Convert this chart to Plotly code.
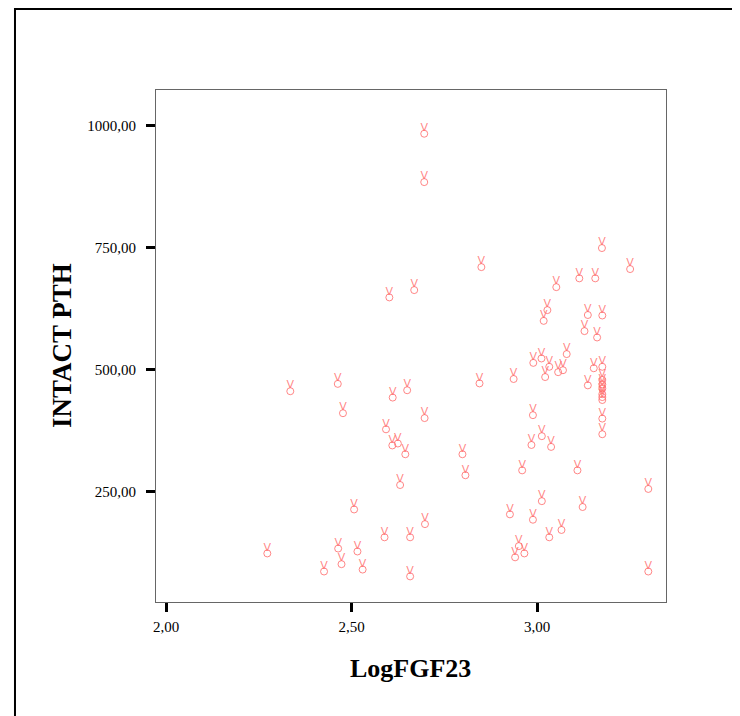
import plotly.graph_objects as go

# Data (LogFGF23 vs INTACT PTH)
log_fgf23 = [
    2.696, 2.696, 2.850, 2.602, 2.669, 3.175, 3.251, 3.114, 3.157, 3.052,
    3.028, 3.018, 3.137, 3.176, 3.128, 3.162, 3.080, 3.012, 2.990, 3.033,
    3.057, 3.070, 3.022, 2.937, 3.153, 3.176, 3.176, 3.176, 3.176, 3.176,
    3.176, 3.176, 3.137, 2.989, 3.176, 3.176, 3.013, 2.985, 3.038, 2.960,
    3.109, 3.300, 3.013, 3.123, 2.927, 2.989, 3.066, 3.033, 2.951, 2.966,
    2.941, 3.300, 2.335, 2.463, 2.611, 2.650, 2.477, 2.697, 2.593, 2.610,
    2.625, 2.645, 2.631, 2.507, 2.698, 2.589, 2.658, 2.273, 2.464, 2.516,
    2.473, 2.530, 2.426, 2.658, 2.799, 2.807, 2.845,
]
intact_pth = [
    983, 884, 710, 648, 663, 749, 706, 687, 687, 669,
    622, 600, 612, 611, 579, 566, 532, 523, 514, 506,
    495, 499, 485, 481, 503, 506, 479, 470, 462, 450,
    444, 438, 468, 407, 400, 368, 364, 346, 342, 294,
    294, 256, 231, 219, 204, 193, 172, 157, 139, 124,
    116, 87, 456, 471, 443, 458, 411, 401, 378, 345,
    349, 327, 264, 214, 184, 157, 157, 124, 134, 128,
    102, 91, 87, 77, 327, 284, 472,
]
x_ticks = [2.0, 2.5, 3.0]
y_ticks = [250, 500, 750, 1000]
x_title = "LogFGF23"
y_title = "INTACT PTH"
finger_glyph = "V"   # upper part of the SPSS "victory hand" marker

serif = "Liberation Serif, Times New Roman, serif"
mark_color = "rgba(255,105,105,0.8)"

fig = go.Figure()
# fist of the hand marker
fig.add_trace(go.Scatter(
    x=log_fgf23, y=intact_pth, mode="markers",
    marker=dict(symbol="circle-open", size=7, color=mark_color,
                line=dict(width=1, color=mark_color)),
    hoverinfo="x+y", showlegend=False,
))
# fingers of the hand marker
fig.add_trace(go.Scatter(
    x=log_fgf23, y=intact_pth, mode="text",
    text=[finger_glyph] * len(log_fgf23), textposition="top center",
    textfont=dict(family="DejaVu Sans", size=11, color=mark_color),
    hoverinfo="skip", showlegend=False,
))

axis_common = dict(
    showgrid=False, zeroline=False, showline=True, linecolor="#666666",
    linewidth=1, mirror=True, ticks="outside", ticklen=9, tickwidth=3,
    tickcolor="black", tickfont=dict(family=serif, size=15, color="black"),
    tickformat=".2f",
)

fig.update_layout(
    width=732, height=708,
    margin=dict(l=148, r=74, t=82, b=114),
    paper_bgcolor="white", plot_bgcolor="white",
    separators=",.",
    xaxis=dict(range=[1.973, 3.3477], tickvals=x_ticks,
               ticklabelstandoff=2, **axis_common),
    yaxis=dict(range=[24.6, 1072.5], tickvals=y_ticks,
               ticklabelstandoff=7, **axis_common),
    annotations=[
        dict(text="<b>%s</b>" % x_title, xref="paper", yref="paper",
             x=0.4986, y=-0.129, xanchor="center", yanchor="middle",
             showarrow=False, font=dict(family=serif, size=26, color="black")),
        dict(text="<b>%s</b>" % y_title, xref="paper", yref="paper",
             x=-0.1843, y=0.5, xanchor="center", yanchor="middle",
             textangle=-90, showarrow=False,
             font=dict(family=serif, size=27, color="black")),
    ],
    shapes=[
        dict(type="rect", xref="paper", yref="paper",
             x0=-0.2765, x1=1.3, y0=-0.4, y1=1.158,
             line=dict(color="black", width=2), fillcolor="rgba(0,0,0,0)",
             layer="below"),
    ],
)

fig.write_html("out.html")
